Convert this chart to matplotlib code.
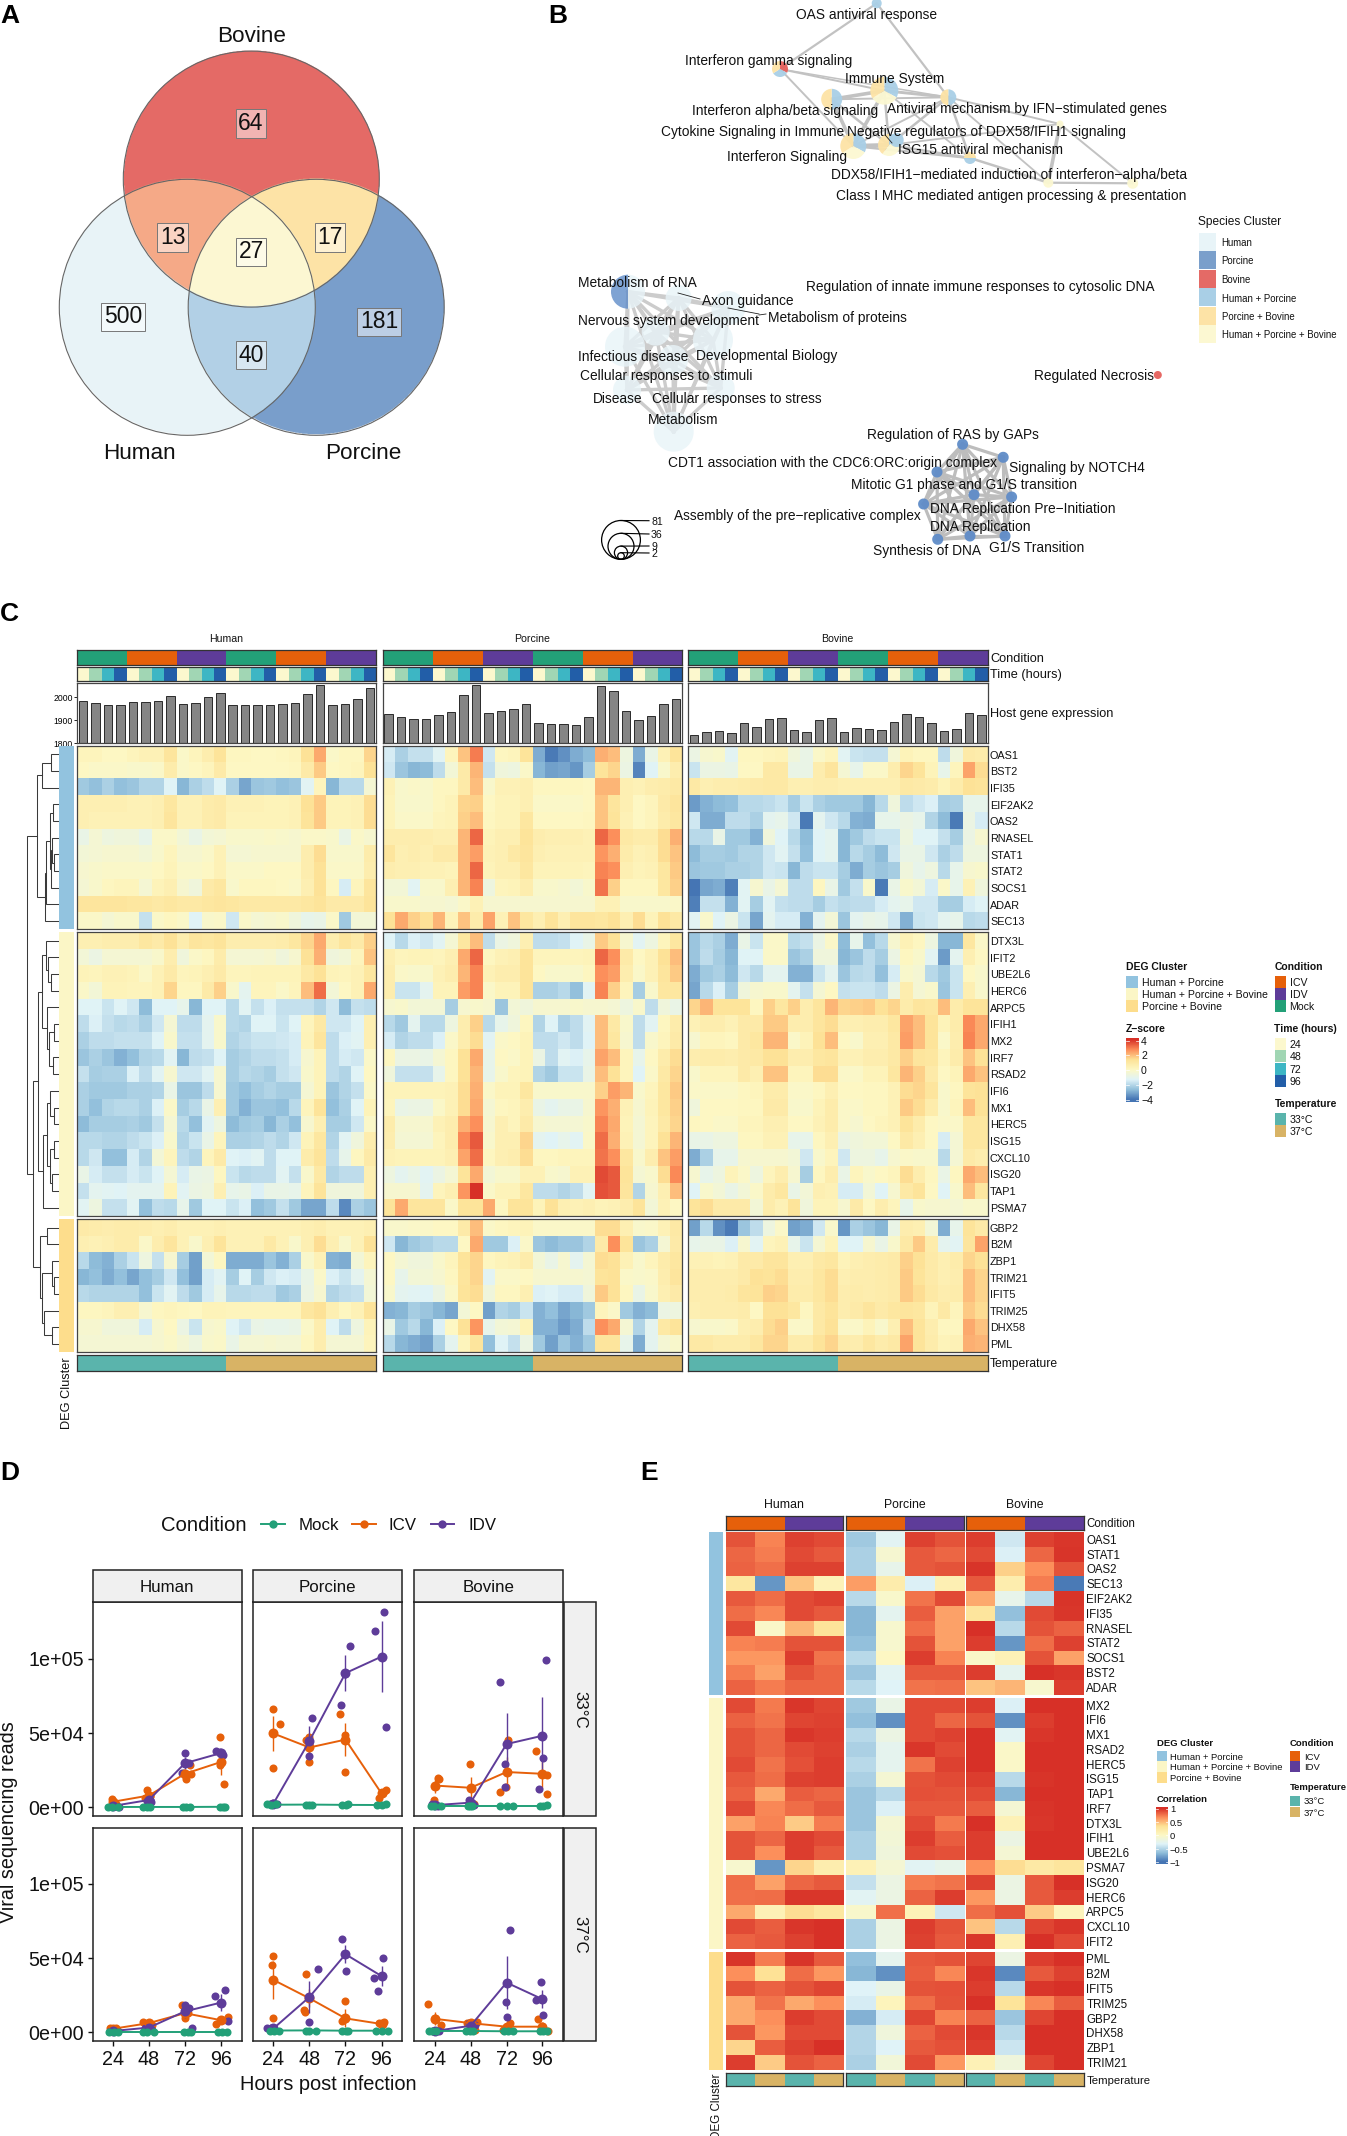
import itertools
import numpy as np
import matplotlib
matplotlib.use('Agg')
import matplotlib.pyplot as plt
from matplotlib.colors import LinearSegmentedColormap, to_rgb
from matplotlib.patches import Circle, Rectangle, Wedge

plt.rcParams['font.family'] = ['Liberation Sans', 'DejaVu Sans']
W, H = 1347, 2136

# ---------- Panel A ----------
venn_labels = ['Bovine', 'Human', 'Porcine']
venn_counts = [64, 13, 27, 17, 500, 40, 181]

# ---------- Panel C ----------
species = ['Human', 'Porcine', 'Bovine']
c_blocks = [11, 17, 8]
genes_c = ['OAS1','BST2','IFI35','EIF2AK2','OAS2','RNASEL','STAT1','STAT2','SOCS1','ADAR','SEC13',
           'DTX3L','IFIT2','UBE2L6','HERC6','ARPC5','IFIH1','MX2','IRF7','RSAD2','IFI6','MX1','HERC5','ISG15','CXCL10','ISG20','TAP1','PSMA7',
           'GBP2','B2M','ZBP1','TRIM21','IFIT5','TRIM25','DHX58','PML']
bars_human = [1983,1974,1965,1965,1978,1978,1984,2007,1970,1975,2000,2020,1967,1965,1965,1965,1971,1974,2013,2052,1965,1970,1991,2039]
bars_porcine = [1928,1913,1907,1906,1922,1936,2010,2052,1930,1942,1949,1972,1887,1884,1883,1878,1913,2048,2025,1942,1899,1917,1971,1991]
bars_bovine = [1836,1849,1852,1843,1887,1872,1907,1909,1857,1848,1901,1909,1849,1867,1861,1858,1894,1926,1913,1887,1852,1864,1930,1922]

human_z = [
[.2,.2,0,0,.2,.4,.4,1.1,-.1,.2,.6,1.2,.1,.1,0,0,.1,.2,1.3,2.2,-.1,.1,.1,1.5],
[0,-.1,-.1,-.1,-.2,-.2,-.1,.7,-.1,0,.2,.8,0,0,0,0,0,.1,.8,1.7,0,.1,.2,1.3],
[-2.4,-2.6,-2.2,-2.6,-2.5,-2.1,-2.1,-1.3,-2.8,-2.2,-1.9,-1.3,-2.2,-3.1,-2.5,-2.4,-2.6,-2.5,-1.2,.2,-2.8,-2,-2,-.4],
[.5,.5,.5,.5,.4,.4,.5,1,.4,.4,.7,.8,.4,.4,.4,.3,.3,.4,1.3,1.7,.3,.3,.4,1.4],
[.5,.4,.4,.4,.4,.4,.5,1.1,.4,.4,.7,.8,.3,.3,.3,.3,.3,.4,1.2,1.7,.3,.3,.4,1.4],
[-.9,-.4,-.7,-.6,-.6,-1,-.1,-.1,-.5,-.9,-.5,-.4,-.2,-.2,-.2,-.1,-.2,-.3,-.1,-.1,-.2,-.9,-.1,-.3],
[-.5,-.4,-.3,-.3,-.3,-.5,-.2,.2,-.3,-.3,-.1,.4,-.4,-.4,-.3,-.3,-.3,-.3,.6,1.4,-.2,-.2,-.2,.7],
[-.3,-.2,-.1,-.1,-.1,-.1,0,.3,-.1,-.1,0,.4,-.1,-.1,-.1,0,0,0,.6,1.3,-.1,-.1,-.1,.6],
[-.4,-.2,.1,.2,.2,-.4,.3,.5,-.3,-.6,.8,1,-.2,.1,.1,.1,0,-.1,.5,1.3,.1,-1.5,.2,1.1],
[1.1,1.1,1.1,1.1,1,1,.9,1,.9,.9,1,1.1,1,.9,.9,.9,.9,.9,1,1.2,.8,.8,.8,1.2],
[-.1,-.1,-.4,-.2,-.2,-1.8,-.1,.1,-.1,-1.3,-.2,-.1,-1.6,-.1,-.4,-.3,-.2,-.6,-1,-.9,-.1,-2.4,-.5,-.5],
[.5,.5,.6,.6,.6,1,.8,1.3,.6,1.1,1,1.2,.6,.6,.6,.6,.7,1,1.5,2.2,.6,1.1,.8,1.6],
[-.5,-.8,-.4,-.4,-.4,-.4,-.2,.6,-.6,-.1,.1,.7,-.4,-.4,-.4,-.3,-.6,-.3,1.3,2.1,-.6,-.5,.2,1.8],
[.3,.2,.4,.4,.3,-.1,.4,.8,.2,.3,.5,.8,.2,.2,.3,.3,.3,.3,.9,1.3,.3,.2,.4,1],
[-.1,-.5,.3,.3,.2,.2,.4,1.5,.1,.1,.8,1.6,-.2,-1.1,.2,.2,-.1,.2,1.9,3.1,-.5,0,.4,2.2],
[-1.3,-1.3,-1.7,-1.3,-1.6,-2.7,-1.3,-1.3,-1,-2.8,-1.3,-1.3,-2,-1.2,-1.8,-1.4,-1.8,-1.8,-1.8,-2.1,-1.6,-2.7,-1.8,-1.9],
[-1.9,-1.4,-1.8,-2,-1.9,-2.2,-1.6,-.4,-1.9,-1.9,-1.1,-.2,-2,-2.1,-1.3,-1.3,-1.7,-1.3,.2,.9,-1.6,-1.6,-1.3,.5],
[-2.2,-1.9,-1.9,-1.8,-1.8,-1.8,-1.3,-.2,-1.8,-1.8,-1.1,-.2,-2.1,-1.9,-1.7,-1.7,-1.6,-1.5,.3,1.1,-1.9,-1.4,-1.2,.5],
[-2.5,-2.2,-2.5,-2.9,-2.6,-2.1,-2,-1.2,-2.8,-1.9,-1.8,-1.3,-2.3,-2.1,-1.9,-1.9,-1.8,-1.5,-.3,.3,-1.9,-1.5,-1.6,-.1],
[-1.8,-2.3,-2.2,-2.2,-1.4,-1.9,-1.2,-.3,-1.6,-1.6,-1.2,-.3,-2.3,-2,-2.1,-2.3,-1.8,-1.6,-.2,.3,-1.9,-2.1,-1.3,0],
[-2.2,-2.4,-2.4,-2.4,-2.2,-2.2,-2.1,-.9,-2.5,-2.5,-1.9,-.3,-2.4,-2.6,-2.3,-2.1,-2.3,-2.3,-.4,.3,-2.5,-2.1,-1.8,-.1],
[-2.2,-2.6,-2.1,-2,-2,-2.2,-1.4,-.1,-2.3,-2,-.9,.5,-2.4,-2.9,-2.5,-2.5,-2.6,-2,.2,1.2,-2.6,-2.2,-1.3,.3],
[-2.7,-2.3,-2.3,-2.3,-2.2,-2.4,-1.8,-.4,-2,-2.6,-1.2,-.7,-2.7,-2.4,-2.3,-2.8,-2.2,-2.6,-.3,.5,-2.3,-2.3,-1.6,-.1],
[-2,-2,-2.1,-2.1,-1.9,-1.7,-1.4,-.2,-2.1,-1.7,-.9,.2,-2.2,-2.2,-2.1,-1.9,-2.1,-1.6,.3,1,-2.1,-1.2,-.6,.6],
[-2,-1.6,-2.6,-2.6,-1.5,-2.1,-.5,.2,-1.9,-2.1,.2,.8,-1.3,-1.4,-1.2,-1.9,-1.3,-1.3,.7,1.2,-1.9,-1,.1,.8],
[-.9,-1.5,-1.8,-1.8,-1.5,-1.7,-1.3,-.4,-1.5,-.9,-.8,.1,-1.7,-2,-1.9,-1.9,-1.2,-1.8,-.2,.9,-2.1,-1.9,-1.9,.5],
[-1.8,-1.1,-1.2,-1.3,-1.1,-1.1,-1.1,.3,-1.2,-.8,-.7,.5,-1,-.9,-1.4,-.9,-.9,-1,.2,1.2,-.6,-.6,-.6,.5],
[-1.2,-.7,-1.8,-1.8,-1.2,-2.6,-1.9,-2,-1,-2.4,-1.3,-1.3,-1.7,-1.4,-2.6,-2.4,-1.8,-2.4,-3.1,-3.1,-1.9,-3.6,-2.2,-2.5],
[.8,.7,.6,.7,.7,.6,.5,.6,.4,.4,.4,.5,.4,.4,.4,.4,.4,.4,.5,.6,.4,.4,.4,.5],
[.5,.4,.5,.7,.7,-.1,.6,1.1,.4,-.2,.5,1.2,.4,.4,.4,.9,.4,-.2,.5,1.4,.5,-.2,.4,1.3],
[-2,-2.7,-2.9,-2.2,-1.7,-.7,-1.8,-.3,-2.3,-3.2,-.5,.1,-3,-3,-3,-2.5,-2.9,-2.2,-.2,.4,-2.9,-3,-.5,.2],
[-2.8,-2.6,-3,-2.6,-3.1,-2.6,-2.3,-1.6,-2.6,-3.2,-1.5,-1.2,-2.3,-1.3,-2.3,-1.6,-1.4,-1.5,-.9,-.1,-1.4,-1.7,-1.1,-.4],
[-2,-2.1,-2.1,-2.1,-2.1,-2.6,-1.7,-1.2,-1.9,-2.4,-1.5,-1,-2,-2,-1.9,-1.9,-2.4,-2.2,-.8,-.3,-2.1,-1.9,-1.8,-.5],
[.1,.1,.2,.5,.5,-.3,.1,.2,.1,0,.3,.3,.2,.2,.2,.2,.2,.2,1,1.3,.5,.1,.4,1.2],
[-.3,-.3,-.6,-.6,-.6,-1.5,-.3,0,-.8,-1.7,-.3,-.2,-1.3,-1.6,-.9,-1,-1,-.9,-.1,.6,-1.3,-1.9,-.7,.3],
[-.4,-.4,-.4,-.4,-.4,-.4,-.3,-.1,-.4,-.7,-.2,-.1,-.9,-.4,-.4,-.3,-.4,-.4,.1,.6,-.4,-.4,-.4,.2],
]
porcine_z = [
[-1.5,-2.2,-1.8,-1.8,-1.2,.2,1.8,2.9,-1.6,.1,.2,1.2,-3,-3.9,-3.5,-3,-2.7,2.1,1.9,-.7,-3,-.9,.4,1.2],
[-1.6,-2.5,-2.8,-2.7,-1.9,-.5,.8,2,-1.8,-.6,-.7,-.1,-2.8,-3.2,-3.1,-3.4,-2.3,1.2,1.5,-.8,-3.7,-1.3,-.2,.6],
[.4,-.2,-.1,-.2,.1,.1,.8,1.9,-.2,.4,.4,.5,.1,.1,.1,.1,0,2,2,.5,.4,.6,.7,.9],
[.3,-.2,-.2,-.2,.1,.3,1.5,1.6,0,.3,.3,.5,-.1,-.1,-.1,-.1,0,1.8,1.1,.5,0,.2,.8,1.1],
[.3,-.1,-.1,-.1,.2,.3,1.6,1.9,.1,.3,.3,1,0,0,0,0,.1,1.8,1.2,.4,0,.2,.7,1],
[.6,.6,.6,.6,.5,.5,2,3.2,.3,.5,.5,1.2,.6,.5,.5,.5,.4,3.2,2.6,.9,.7,.7,1.4,2.1],
[1.1,.5,.6,.5,.8,.8,2,2.4,.4,.5,.9,1.1,.5,.4,.4,.4,.4,2.5,2.1,.7,.4,.5,1.4,1.8],
[.6,.5,.5,.4,.4,.3,2,3.2,.3,.5,.5,1,.3,.3,.3,.3,.2,2.8,2.6,.5,.3,.4,1,1.7],
[-.5,-.5,-1.2,-.2,-.2,.5,2,2.8,-.7,.2,.3,.6,-.2,-.2,-.3,-.5,-.2,3,1.6,.1,.1,.1,1,1.6],
[-.2,-.2,-.2,-.3,-.3,-.4,-.1,.4,-.3,-.3,-.3,-.3,-.3,-.3,-.3,-.3,-.3,.4,.4,-.2,-.2,-.2,-.2,-.1],
[1.3,2.2,1.6,1.3,2,.3,1.8,.7,2.3,.4,1.8,1,.5,1.2,.5,1.1,1.1,1,1.3,.5,1.4,.3,1.3,.9],
[-1.3,-2,-1.4,-1.6,-1.2,-.4,1,1.9,-1.9,-.8,-.6,.5,-1.9,-1.9,-1.8,-1.3,-.9,1.7,1.3,-.3,-1.2,-.7,.2,1],
[.5,.2,.3,.3,.2,.5,2.2,3.2,.1,.4,.5,1.2,.2,.2,.2,.2,.3,3.2,2.6,.8,0,.4,1.3,1.9],
[.6,-.1,-.2,-.2,.4,.6,2,2.8,.4,.6,.6,1.2,0,-.2,-.2,-.2,.1,2.6,2.4,.6,-.1,.4,1.1,1.7],
[.6,-1.7,-1.7,-1.1,.3,.3,2.4,2.8,-.1,.3,.3,1.2,-2.2,-2.2,-2,-2.6,-1.2,2.8,1.6,.2,-2.3,-.2,1,1],
[-.3,-.2,-.5,-.5,-.5,-2.3,-.3,-.2,-.3,-2.5,-.5,-.6,-.3,-.3,-.3,-.2,-.3,-.3,-.4,-.7,-.2,-1.9,-.6,-.9],
[-2,-2.4,-1.1,-2,-2,-.7,.6,1.6,-2,-1,-.6,.1,-2.1,-1.3,-2.2,-1.9,-1.2,1.9,.9,-.2,-1.9,-1.2,.1,.7],
[-1.5,-2.1,-1.9,-1.9,-1.4,-.1,.6,1.4,-1.2,-.1,0,.3,-1.9,-1.9,-1.6,-1.9,-1.3,1.9,1,-.3,-1.9,-.2,.2,.8],
[.1,-.8,-.8,-.9,-.4,.1,1.3,2.2,-1,0,-.1,.3,-.8,-1.9,-1.2,-1.4,-1,2.3,1.9,.2,-1,0,.7,1.4],
[-.6,-1.8,-1.8,-1.8,-1,.1,1.3,2,-1,-.2,.2,.3,-2.1,-2.4,-1.7,-1.7,-.9,1.9,1.3,.2,-1.3,-.1,.9,1.5],
[.3,.3,.3,.3,.3,.4,1.4,2.1,-.1,.3,.3,1,-.2,-.2,-.2,-.2,-.2,1.6,2.4,2,-.2,.2,1,1.7],
[.2,-.9,-.8,-.8,-.1,.4,1.4,2.2,-.4,.1,.2,.6,-.9,-1.1,-.9,-.9,-.3,2.5,2.1,.4,-.3,.3,1,1.6],
[.7,-.3,-.3,-.3,.4,.6,2.1,2.6,-.3,.5,.2,.8,-.3,-.4,-.4,-.4,-.2,2.8,2.2,.3,-.4,.2,.9,1.5],
[.6,-.4,-.4,-.4,.2,.6,2.7,3.4,-.2,.5,.5,1.5,-1.1,-1.3,-1,-1.2,-.1,3.1,2.1,.4,-.4,.2,1.3,2],
[.4,.3,.3,.3,.3,.5,2.3,3.1,.1,.5,.6,1.4,.1,.1,.2,.2,.2,3,2.6,1,-.2,.6,1.8,2.4],
[-.7,-1.1,-.9,-1.2,-.8,-.4,1.2,2.2,-.5,-.2,-.2,.4,.4,-.2,-.3,.4,.4,3.6,3.4,1.2,-.4,-.2,1.4,2.7],
[-.3,-.3,-.3,-1.1,.2,.5,2.5,4,-.1,.3,.3,1,-1.9,-1.9,-2.1,-1.9,-1.2,3.5,3.4,1.1,-2.1,-.3,.5,1.9],
[1.2,2.2,1.1,1.1,1.1,-.1,1.2,1.2,2.2,.1,1.2,1.2,.3,1.3,.5,.4,.5,.3,.4,.6,1.2,-.5,.4,0],
[-.2,-.2,-.1,-.1,0,0,.8,1.9,-.1,.1,.2,.3,-.1,-.1,-.1,-.1,-.1,1.4,1.4,.5,-.2,-.1,.4,.9],
[-1.6,-2.8,-2.4,-2.2,-2,-2,0,2.2,-2.4,-2.4,-1.4,-.1,-2.5,-2.7,-2.5,-2.5,-2.1,.8,2.6,1.2,-2.5,-2.2,-.4,.8],
[0,-.4,-.6,-.6,-.2,.2,1.2,1.5,.1,.3,.4,.7,-.5,-.9,-.3,-1.1,-.4,1.4,1.3,.4,-.2,.2,.7,1],
[0,-1,-.5,-.5,-.3,.1,1.1,1.5,-1.2,-.1,-.1,0,-.3,-.3,-.3,-.3,-.4,1.2,1.3,-.1,-.2,-.1,.6,1.1],
[-.2,-1.1,-1.2,-1.3,-.8,-.1,1.2,1.4,-.6,.1,.1,.5,-1.4,-1.3,-1.5,-1.5,-.6,1.7,1.3,.1,-.9,-.2,.5,.8],
[-2.9,-2.8,-2.3,-2.5,-2.8,-3.1,-.5,0,-3.2,-2.1,-2.3,-1.7,-2.9,-2.6,-3.1,-2.8,-2.4,.2,-.1,-2.4,-2.9,-2.7,-.8,-.7],
[-.9,-2.4,-2,-2.8,-1.4,0,1.3,2.5,-1,-.5,-.4,.3,-2.9,-2.9,-3.3,-3,-1.9,2.6,2.2,-.4,-2.1,-1.1,.9,1.2],
[-2,-2.8,-3,-3.2,-2.2,-1.1,.2,1.1,-2.6,-1.3,-1.8,-.8,-2.4,-3.2,-2.5,-2.9,-2.4,1.1,1.1,-1,-3,-1.1,-.4,-.2],
]
bovine_z = [
[-.8,-.3,-.2,-1.2,.1,.1,.2,.3,-.6,-.9,-.1,.2,-1.2,-1.7,-1.8,-1.8,-.4,.3,.1,.1,-1.9,-.6,.8,.7],
[-1.7,-.8,-.8,-.9,0,0,.9,.9,-.9,-.9,.6,1.1,-.4,-1,-.1,-.1,.6,1.5,1.2,.3,-1,.2,2.3,1.4],
[.9,.5,.6,.6,.7,.8,.9,.9,.5,.5,.6,.6,.5,.5,.5,.5,.5,.9,.8,.7,.3,.7,1.3,1.2],
[-3.3,-2.9,-2.7,-2.6,-2,-2,-1.9,-1.7,-2.3,-1.7,-2.2,-2.4,-2.4,-2.4,-2.8,-2,-.6,-1.9,-1.6,-1.4,-2.3,-2.2,-1,-1],
[-1.6,-3,-3,-1.9,-1.9,-2.2,-1.1,-1,-1.6,-3.9,-1.1,-1.6,-2,-2.9,-3,-1,-1,-.8,-1,-2.1,-2.7,-3.9,-.8,-1.5],
[-2,-2,-.9,-2.4,-2.4,-2.9,-.6,-1.3,-2,-2.7,-1.3,-1.1,-2.8,-2.4,-1.9,-1.7,-1.7,-.7,-1.3,-1.3,-1.8,-2.3,-.8,-.3],
[-2.7,-2.3,-2.3,-2.4,-2.1,-2.1,-1.6,-1.2,-1.8,-2.6,-1.3,-1.1,-2.8,-2,-2.3,-2.7,-1.6,-.9,-.9,-1.6,-2.2,-1.9,-.7,-.7],
[-2.5,-2.4,-2.4,-2.2,-2.2,-2.1,-1.6,-1.7,-2.8,-1.9,-1.7,-1.7,-2.3,-3,-2.3,-2.5,-2.3,-.6,-1,-.7,-2,-1,-.3,-.2],
[-4,-3.1,-3,-3.8,-1.2,-.3,-.9,-.4,-1.9,-1.9,.1,-.9,-2.4,-1.8,-.2,-3.9,-.9,-.2,-.5,-1.5,-.1,-1,.4,-.6],
[-3.8,-1.8,-1.8,-2.9,-1.2,-2.3,-1.2,-1.8,-1.9,-1.9,-2.3,-1.8,-2,-1.9,-1.9,-1.5,-1.1,-1,-1.6,-1.6,-2.3,-2.3,-1.5,-1.3],
[-1.2,-.2,-1.3,-.8,-1.7,-3.1,-1.1,-1.5,-1.5,-2.9,-1.1,-.5,-2.5,-1.1,-.9,-1,-1.6,-2.9,-1.7,-1.6,-1.1,-1,-2,-1.9],
[-2.5,-2,-2.2,-3,-.9,-1.7,-.1,-.1,-2,-1.8,-.8,-.1,-2.7,-1,-2.6,-2,-.3,.4,.1,-.7,-2.8,-2.8,1,-.1],
[-2.5,-1.9,-2.3,-2.8,-1.3,-1.3,-.1,-.1,-2.5,-2.2,-.6,-.6,-2.8,-2.5,-1.9,-2.3,-.8,.1,-.2,-1.2,-3.3,-1.1,.5,0],
[-3,-2.4,-2.2,-2.7,-1.6,-2,-1.1,-1.1,-2.9,-2.9,-1.7,-1.1,-2.5,-2,-1.9,-2.6,-1.5,-.2,-.4,-2,-2.4,-1.7,0,-.2],
[-3.1,-2,-1.4,-2.3,-.6,-.3,-.2,-.2,-1.1,-1.8,-.4,0,-1.8,-1.7,-1.7,-1.9,-.8,.6,-.4,-.2,-2.5,-1.7,.5,-.2],
[1.5,2,1.2,1.2,1.2,.1,1.6,1,1.6,.6,1.1,2,1.5,1.6,1.7,1.3,1.5,.7,1.1,1,1.9,.7,1.2,1.2],
[.4,.6,.6,.4,.8,.8,1.7,1.7,.6,.6,1.1,1.4,.5,.5,.6,.6,1,2.3,1.9,1.2,.3,.7,2.7,2.2],
[-.3,.2,.2,.1,.8,1,2,2,-.1,.3,1.3,1.9,0,-.2,.5,.5,.9,2.4,1.9,1.2,-.1,.6,2.8,2.2],
[.6,.7,.7,.6,.8,.9,1.3,1.3,.6,.6,1,1.1,.4,.4,.6,.6,.9,1.6,1.1,1,.2,.7,1.8,1.3],
[-.2,.2,.2,.2,.8,.5,1.8,1.8,.2,.2,1.4,1.4,-.1,-.1,.3,.3,1,2,1.6,.8,0,.3,2.2,1.8],
[-.1,-.1,-.1,-.1,.1,.2,.7,.7,-.1,-.1,.1,.5,0,0,.1,.1,.4,1.4,1.5,1.1,-.2,.1,1.2,1.3],
[-.6,0,0,0,.1,.1,.8,.8,-.2,-.2,.3,.7,-.1,-.1,.1,.1,.4,1.7,1.4,.7,-.2,.2,1.9,1.3],
[.1,0,-.1,-.1,.2,.2,.5,.5,0,0,.4,.7,-.1,-.3,0,.2,.4,1.2,.7,0,-.1,-.1,1,1],
[-.9,-.9,-.7,-.7,.1,.1,.4,.4,-1,-1,.1,.5,-.8,-.6,-.5,-.5,0,.9,.5,0,-1.5,-.4,1,1],
[-3,-2.2,-1,-1,-.3,-.3,-.3,-.3,-.5,-1.6,-.2,.2,-1.6,-.7,-.7,-1,-.3,-.1,-.2,-.2,-2,-.4,.8,.6],
[-.3,-1,-.7,.3,-.1,-.7,.2,.6,-.3,-2.3,.1,.6,-.9,.2,-.2,0,.2,1.4,.6,.1,-.9,.1,2.2,1.9],
[-1.3,-.2,-.5,-.9,-.5,-.1,.7,1,-.9,-.5,.5,.4,-1.5,-1.5,-.5,-1.3,-.3,.9,1.2,0,-1.3,-.2,1.9,1],
[1.2,1.4,.8,.8,.8,-.5,.7,.4,1.2,-.6,.3,.3,-.3,.8,0,.6,.2,-1,-.2,-.3,-.3,-.4,-.2,-.2],
[-3.2,-2,-3.5,-3.9,-2.5,-1.9,-.7,-.1,-3.2,-3,-1.6,-.2,-3.4,-2.2,-2.5,-2.8,-.9,.6,.5,-.5,-3,-1,1.2,.8],
[-1,-.9,-.9,-1.4,-.3,-1.2,.2,.4,-1,-1.7,-.4,.3,-1.3,-1.3,-.3,-.9,-.2,.9,1.7,.7,-1.1,-1.2,1.1,2.3],
[.4,.4,.3,.4,.8,.8,1.1,1.1,.5,.5,.9,1,.3,.5,.6,.7,.8,1.6,1.3,.8,.5,.7,1.5,1.3],
[.6,.6,.6,.6,.8,1.3,1.2,1.4,.6,.6,1,1.4,.5,.6,.6,.7,.8,1.7,1.2,.8,.5,.6,1.9,1.5],
[.6,.6,.6,.7,1.1,1.2,1.6,1.5,.7,.7,1,1.4,.6,.7,.6,.7,.8,1.7,1.4,.9,.6,.7,1.9,1.5],
[.5,.6,.6,.6,.7,0,1.3,1.3,1,.1,.9,1.2,.6,.8,1.1,.8,1,1.1,1,.3,.9,.2,1.7,1.4],
[-.3,-.2,-.2,-.1,.5,.6,1.4,1.6,-.1,-.1,.9,1.3,-.1,-.1,.3,-.2,.5,1.9,1.2,.6,.1,.1,2.2,1.8],
[.9,.9,.7,.7,.7,1,1.5,1.5,.7,.7,1.2,1.5,.7,.6,1,.7,.9,2.3,1.2,.7,.3,.4,2.1,2],
]
# dendrogram merges: (height, left, right); integers are row numbers
tree_c = (30.8,
    (20.4, (15.6, (6.5, 0, 1), 2),
           (13, (11.7, (7.8, (4.8, 3, 4), (7, (5.6, 5, (3.5, 6, 7)), 8)), 9), 10)),
    (25, (20, (16, (12, 11, (10, 12, (6.5, 13, 14))),
                   (10.8, 15, (9.1, (3.5, 16, 17), (4.8, 18, 19)))),
              (14.3, (11, (7.8, 20, (3.5, 21, 22)), (8, (3.5, 23, 24), (5.6, 25, 26))), 27)),
         (17.8, (10.8, 28, 29), (16, (5.5, 30, (3.5, 31, 32)), (14, 33, (5.6, 34, 35))))))

# ---------- Panel D (x in hours incl. jitter, y in thousands of reads) ----------
hours = [24, 48, 72, 96]
h33_icv_mean, h33_icv_err = [3.8, 8, 22.6, 30.5], [1, 1.5, 2.5, 9]
h33_idv_mean, h33_idv_err = [1, 5, 29.7, 36.5], [.4, .7, 4, 1]
h33_mock_mean = [.3, .3, .3, .4]
h33_icv_pts = [(23.5,5.9),(24.8,3.5),(26.2,2.6),(47,11.8),(48.8,7.9),(45.3,6.5),(75.3,28.5),(73,19.1),(71.2,23.2),(76,22.6),(95.2,47.3),(98.2,15.9),(95.7,28.5)]
h33_idv_pts = [(23.5,1.5),(26.2,1.2),(28,.6),(48.5,5),(46.7,4.1),(49.4,3.5),(72.3,36.8),(69.8,23.2),(74.7,29.7),(92.7,38.2),(95.7,37.3),(97.4,35.3)]
h33_mock_pts = [(20.7,.5),(23.5,.4),(27.5,.4),(44,.4),(46.7,.4),(48.5,.4),(70.6,.4),(73,.4),(75.7,.4),(95.2,.4),(97.4,.4),(99,.5)]
p33_icv_mean, p33_icv_err = [49.7, 40.3, 45.6, 9.4], [12, 4, 11, 1.5]
p33_idv_mean, p33_idv_err = [2.6, 44.7, 90.3, 101.4], [.3, 10, 12, 24]
p33_mock_mean = [1.8, 1.9, 1.7, 1.6]
p33_icv_pts = [(24,66),(28.6,55.9),(24,26.2),(45.5,45.3),(48,47.6),(48,30.6),(68.2,62.6),(71.5,49),(71.7,24.1),(98.7,11.8),(96.8,9.4),(94.6,6.5)]
p33_idv_pts = [(24,2.9),(21.5,2.6),(26.7,2.6),(49.6,60.3),(48,43.2),(48,34.4),(75,108.8),(68.8,68.8),(71.5,90),(97.4,131.7),(91.7,118.8),(98.7,53.8)]
p33_mock_pts = [(20,2),(22.6,1.8),(25.4,2),(45.5,1.9),(47.7,1.9),(49.6,1.9),(69.5,1.5),(72.3,1.7),(73.6,2.2),(92.8,1.3),(96,1.6),(99,2)]
b33_icv_mean, b33_icv_err = [14.7, 13.2, 23.8, 22.6], [5, 7, 10, 10]
b33_idv_mean, b33_idv_err = [1.5, 3.2, 42.6, 48.2], [.4, 1, 21, 26]
b33_mock_mean = [1.2, 1.2, 1.2, 1.2]
b33_icv_pts = [(26,19.7),(26.7,19.1),(23.5,5),(47.5,29.1),(50,2.6),(48,12.9),(73,45.3),(67.4,10.6),(71.7,13.8),(91.6,37.9),(99,21.8),(99.3,9.1)]
b33_idv_pts = [(22.4,2),(24,1.5),(26,1.2),(46.6,5),(48.5,2.6),(50,1.5),(67.6,84),(71.2,29.4),(71.2,13.8),(98.5,98.8),(93.8,12.3),(96.3,33.5)]
b33_mock_pts = [(21.3,1.2),(23.5,1.2),(28.5,1.2),(46,1.2),(47.5,1.2),(49.2,1.2),(67.6,1.2),(72.5,1.2),(76.6,1.2),(94.6,1.2),(96.3,1.2),(99,1.5)]
h37_icv_mean, h37_icv_err = [2.4, 6.2, 12.9, 8.2], [.5, 1, 2.5, 2]
h37_idv_mean, h37_idv_err = [.9, 3.2, 14.1, 20], [.2, .6, 4.5, 5.5]
h37_mock_mean = [.4, .4, .4, .4]
h37_icv_pts = [(22,2.6),(25.7,3.2),(24,1.8),(44,7),(48,6.2),(50,4.7),(69.8,18.5),(72,9.7),(74,12.9),(93,5.3),(96.5,8.2),(100.7,10)]
h37_idv_pts = [(22,.6),(24.8,.6),(27.5,.6),(45.3,2.6),(48,3.2),(50,1.8),(72,18.5),(74.7,16.5),(76.7,3.2),(92.2,24.4),(98.5,28.2),(100.7,7.9)]
h37_mock_pts = [(21.5,.3),(24.8,.3),(27.5,.3),(44,.3),(46.7,.3),(51.5,.3),(71.5,.3),(74.2,.3),(76.4,.3),(93.8,.3),(97,.3),(100.4,.3)]
p37_icv_mean, p37_icv_err = [35.3, 22.9, 9.4, 5.6], [13, 6, 6, 1]
p37_idv_mean, p37_idv_err = [2.6, 23.8, 52.6, 37.9], [.3, 11, 6, 7]
p37_mock_mean = [1.2, 1.3, 1.1, 1.1]
p37_icv_pts = [(23.5,51.5),(23,45.3),(24,9.7),(46,39.4),(44.3,15),(45,13.5),(71.5,20.9),(72,9.1),(70,7.6),(94,6.2),(97.4,7),(96,5.6)]
p37_idv_pts = [(20,3.2),(22.6,3.2),(24,2.4),(53.5,42.9),(47.4,7),(48,23.8),(69.5,62.6),(72.5,41.2),(71.7,52.6),(97,50.3),(91,36.5),(93.8,27.9)]
p37_mock_pts = [(21.5,1.2),(24.5,1.2),(27.5,1.2),(45.5,1.2),(47.7,1.2),(52.5,1.2),(69.5,1),(72.3,1),(73.6,1),(92,1),(96,1),(100.4,1)]
b37_icv_mean, b37_icv_err = [9.1, 6.2, 3.8, 3.8], [4.5, 1.5, 1.2, 2.5]
b37_idv_mean, b37_idv_err = [.9, 4.4, 33.5, 22.3], [.2, 1.5, 18, 6]
b37_mock_mean = [.9, .9, .7, .7]
b37_icv_pts = [(19.4,19.1),(24,9.7),(28,4.7),(45.5,6.2),(52,7),(51,1.8),(74.5,6.2),(71.7,3.8),(69.5,1.8),(92.7,9.1),(96,4.1),(100,1.2)]
b37_idv_pts = [(26.7,.9),(24.8,.6),(22.6,.6),(46.6,6.2),(48.5,3.8),(51.2,4.7),(74.5,69),(71.7,20.3),(72.5,10.6),(95,33.8),(92,22),(96.5,11.5)]
b37_mock_pts = [(20,.9),(22,.9),(24.8,.9),(45,.9),(47.7,.9),(49.6,.9),(70.6,.7),(73.3,.7),(76,.7),(94.6,.7),(96.3,.7),(99,.7)]

# ---------- Panel E ----------
e_blocks = [11, 17, 8]
genes_e = ['OAS1','STAT1','OAS2','SEC13','EIF2AK2','IFI35','RNASEL','STAT2','SOCS1','BST2','ADAR',
           'MX2','IFI6','MX1','RSAD2','HERC5','ISG15','TAP1','IRF7','DTX3L','IFIH1','UBE2L6','PSMA7','ISG20','HERC6','ARPC5','CXCL10','IFIT2',
           'PML','B2M','IFIT5','TRIM25','GBP2','DHX58','ZBP1','TRIM21']
human_r = [[.87,.7,.93,.9],[.8,.72,.9,.85],[.82,.77,.93,.93],[.25,-.85,.45,.08],[.85,.78,.9,.93],[.78,.68,.9,.85],[.9,-.03,.5,.3],[.7,.72,.87,.87],[.62,.62,.95,.75],[.72,.58,.87,.8],[.82,.72,.8,.8],
 [.9,.73,.97,.92],[.82,.75,.92,.93],[.87,.8,.97,.95],[.87,.8,.9,.93],[.9,.75,.88,.95],[.85,.78,.93,.95],[.82,.55,.83,.8],[.9,.68,.78,.85],[.58,.7,.42,.72],[.87,.8,.95,.9],[.87,.65,.95,.85],[-.07,-.85,.38,.15],[.78,.58,.8,.85],[.77,.78,.97,.97],[.55,.1,.35,.25],[.9,.83,.97,1],[.82,.85,.93,1],
 [.98,.72,.98,.85],[.65,.33,.78,.62],[.87,.82,.87,.92],[.55,.75,.55,.65],[.55,.65,.95,.9],[.87,.62,.9,.9],[.38,.83,.93,1],[.95,.42,.87,.82]]
porcine_r = [[-.6,-.3,.93,.87],[-.55,-.08,.85,.8],[-.55,-.25,.85,.87],[.6,.17,-.35,.12],[-.5,-.05,.75,.9],[-.7,-.28,.83,.58],[-.7,-.07,.77,.58],[-.65,-.07,.87,.58],[-.5,0,.95,.7],[-.62,-.3,.85,.85],[-.5,-.33,.75,.77],
 [-.6,-.22,.9,.9],[-.65,-.87,.9,.8],[-.5,-.2,.9,.93],[-.55,-.27,.97,.9],[-.5,-.27,.75,.93],[-.55,-.1,.87,.9],[-.62,-.5,.88,.87],[-.62,-.35,.85,.85],[-.62,-.1,.9,.73],[-.55,-.12,.95,.83],[-.55,-.15,.9,.88],[.1,-.1,-.3,-.25],[-.45,-.2,.72,.75],[-.3,-.2,.82,.95],[-.05,.77,.08,-.4],[-.55,-.2,.95,.87],[-.55,-.2,.93,.85],
 [-.65,-.27,.85,.87],[-.7,-.87,.83,.68],[-.33,-.22,.87,.88],[-.37,.05,.78,.87],[-.72,-.37,.92,.7],[-.52,-.15,.82,.9],[-.52,-.33,.85,.88],[-.55,-.13,.9,.62]]
bovine_r = [[.95,-.4,.93,.97],[.9,-.35,.8,.98],[.98,.4,.65,.87],[.85,.15,.72,-.97],[.55,-.25,-.5,.98],[.28,-.65,.9,.97],[1,-.5,.87,.82],[.95,-.85,.78,.93],[-.03,.1,.87,.58],[.95,-.28,1,.97],[.45,.5,-.07,.95],
 [.95,-.35,1,1],[.87,-.87,.95,1],[1,-.3,.97,1],[1,-.03,1,1],[1,-.03,1,1],[.95,-.5,.98,1],[.9,-.7,1,1],[.83,-.1,.98,1],[1,.1,.97,1],[.95,-.2,1,1],[.95,-.1,1,1],[.65,.35,.22,.28],[.93,-.2,.85,1],[.62,-.2,.85,.95],[.78,.88,.42,.05],[.45,-.5,.92,.97],[.97,.12,1,.9],
 [.92,-.2,.95,1],[.97,-.9,.85,.93],[.95,-.5,.97,1],[1,.3,.68,.83],[.82,-.62,.92,1],[.97,-.5,1,1],[.95,-.42,1,1],[.1,-.15,.92,1]]

# ---------- Colours ----------
BLUE_C, YEL_C, ORA_C = '#92C3DF', '#FBF6C6', '#FDDD8C'
C_MOCK, C_ICV, C_IDV = '#23A078', '#E6600A', '#5E3C99'
T_COL = ['#FCF8CE', '#A1D6B4', '#3DB6C4', '#225EA8']
TEMP = ['#5AB4AC', '#D8B365']
SP = {'H': '#E8F4F8', 'P': '#5F8CC8', 'B': '#E5605C', 'HP': '#A9CFE6', 'PB': '#FDE3A6', 'HPB': '#FCF8D2'}
cmap = LinearSegmentedColormap.from_list('z', ['#4575b4', '#91bfdb', '#e0f3f8', '#fdf8c4', '#fee296', '#fc8d59', '#d73027'])

fig = plt.figure(figsize=(W / 100, H / 100), dpi=100, facecolor='white')

def axpx(x0, y0, x1, y1, **kw):
    return fig.add_axes([x0 / W, 1 - y1 / H, (x1 - x0) / W, (y1 - y0) / H], **kw)

ov = fig.add_axes([0, 0, 1, 1], zorder=10)
ov.set_xlim(0, W); ov.set_ylim(H, 0); ov.axis('off'); ov.set_autoscale_on(False)
ov.patch.set_alpha(0)

def T(x, y, s, size, ha='center', va='center', **kw):
    ov.text(x, y + 1.2, s, fontsize=size, ha=ha, va=va, color=kw.pop('color', '#111111'), **kw)

def swatch(x0, y0, x1, y1, c, z=3):
    ov.add_patch(Rectangle((x0, y0), x1 - x0, y1 - y0, fc=c, ec='none', zorder=z))

for s, (x, y) in zip('ABCDE', [(10, 15), (558, 15), (9, 613), (10, 1472), (649, 1472)]):
    T(x, y, s, 19, fontweight='bold', color='black')

# ---------- A: Venn ----------
circ = {'B': (251.3, 179.1), 'H': (187.3, 307.3), 'P': (316.2, 307.3)}
R_V = 128.0
xs = np.arange(50, 455, 0.5); ys = np.arange(45, 445, 0.5)
XX, YY = np.meshgrid(xs, ys)
inB = (XX - circ['B'][0])**2 + (YY - circ['B'][1])**2 <= R_V**2
inH = (XX - circ['H'][0])**2 + (YY - circ['H'][1])**2 <= R_V**2
inP = (XX - circ['P'][0])**2 + (YY - circ['P'][1])**2 <= R_V**2
img = np.ones(XX.shape + (4,)); img[..., 3] = 0
for mask, col in [(inH & ~inB & ~inP, '#E8F4F8'), (inP & ~inB & ~inH, '#7A9FCB'), (inB & ~inH & ~inP, '#E46A66'),
                  (inH & inP & ~inB, '#B2D1E6'), (inH & inB & ~inP, '#F5A987'), (inP & inB & ~inH, '#FDE3A6'), (inH & inP & inB, '#FCF8D2')]:
    img[mask] = to_rgb(col) + (1,)
ov.imshow(img, extent=(xs[0], xs[-1], ys[-1], ys[0]), aspect='auto', interpolation='bilinear', zorder=1)
for k in circ:
    ov.add_patch(Circle(circ[k], R_V, fc='none', ec='#666666', lw=0.8, zorder=2))
for n, (x, y) in zip(venn_counts, [(251, 122.5), (172.7, 236.5), (251, 250.7), (330, 236.5), (123, 315.7), (251, 354), (379, 320.7)]):
    T(x, y, str(n), 16.5, zorder=4, bbox=dict(boxstyle='square,pad=0.12', fc=(1, 1, 1, 0.5), ec='#777777', lw=0.7))
for s, (x, y) in zip(venn_labels, [(251.7, 35), (139, 452), (363.4, 452)]):
    T(x, y, s, 16.2)

# ---------- B: network ----------
nodes1 = [('OAS', 876.7, 3.3, 5, [('HP', 1)], -90), ('IFNG', 780, 69, 8, [('B', .33), ('HP', .33), ('PB', .34)], -90),
          ('IFNA', 831.7, 99.3, 10.5, [('HP', .5), ('PB', .5)], -90), ('IMM', 884.3, 90.7, 14, [('HP', .33), ('HPB', .33), ('PB', .34)], -90),
          ('ANTI', 948.3, 97.3, 8, [('HP', .5), ('PB', .5)], -90), ('CYT', 853.3, 146, 13, [('HP', .33), ('HPB', .33), ('PB', .34)], -90),
          ('ISG', 889, 145, 11, [('HP', .15), ('HPB', .45), ('PB', .4)], -90), ('NEGB', 896.7, 140, 7, [('HP', 1)], -90),
          ('DDX', 970, 158, 6, [('HP', .5), ('PB', .5)], 0), ('NEG', 1060, 124, 3.5, [('HPB', 1)], -90),
          ('DD2', 1048.3, 182.7, 5, [('HPB', 1)], -90), ('MHC', 1132.7, 183.3, 5.5, [('HPB', 1)], -90)]
edges1 = [('OAS','IFNG',1.6),('OAS','ANTI',1.6),('IFNG','IMM',1.4),('IFNG','CYT',1.4),('IFNG','ANTI',1.1),('IFNA','IMM',2.6),('IFNA','ANTI',1.4),('IFNA','CYT',2.6),('IFNA','ISG',1.8),
          ('IMM','ANTI',2.1),('IMM','CYT',2.6),('IMM','ISG',1.8),('ANTI','CYT',1.4),('ANTI','ISG',1.8),('ANTI','NEG',1.4),('ANTI','DDX',1.8),('ANTI','DD2',1.3),('CYT','ISG',3),('CYT','DDX',1.8),
          ('ISG','DDX',1.8),('NEG','DD2',2.6),('NEG','MHC',1.4),('DDX','DD2',1.8),('DD2','MHC',1.6),('NEG','ISG',1.3),('IMM','DDX',1.3)]
lk = {n[0]: n for n in nodes1}
for a, b, lw in edges1:
    ov.plot([lk[a][1], lk[b][1]], [lk[a][2], lk[b][2]], color='#C2C2C2', lw=lw, zorder=2, solid_capstyle='round')

def pie(x, y, r, parts, start=-90, alpha=0.95):
    th = start
    for key, f in parts:
        ov.add_patch(Wedge((x, y), r, th, th + 360 * f, fc=SP[key], ec='none', alpha=alpha, zorder=3))
        th += 360 * f

for n in nodes1:
    pie(n[1], n[2], n[3], n[4], n[5])

nodes2 = [(628, 291.7, 17, [('H', .5), ('P', .5)]), (678.6, 298, 13, [('H', 1)]), (728.4, 308, 17, [('H', 1)]), (655.7, 331.7, 14, [('H', 1)]),
          (625, 346.7, 20, [('H', 1)]), (713, 340, 20, [('H', 1)]), (673, 360, 15, [('H', 1)]), (627, 390, 14, [('H', 1)]), (720.7, 388, 14, [('H', 1)]), (673.7, 431.7, 20, [('H', 1)])]
for a, b in itertools.combinations(nodes2, 2):
    ov.plot([a[0], b[0]], [a[1], b[1]], color='#CCCCCC', lw=2.4, zorder=2)
for n in nodes2:
    pie(n[0], n[1], n[2], n[3], alpha=0.8)
nodes3 = [(962.6, 444.3), (1003.2, 457.3), (937, 472), (974, 494.7), (1011.6, 497), (923.6, 504), (937.7, 539.3), (970, 536), (1005, 536)]
for a, b in itertools.combinations(nodes3, 2):
    ov.plot([a[0], b[0]], [a[1], b[1]], color='#BDBDBD', lw=2.3, zorder=2)
for x, y in nodes3:
    pie(x, y, 5.5, [('P', 1)])
pie(1157.8, 375, 4, [('B', 1)])

for (x0, y0, x1, y1) in [(678, 293, 700, 299), (728, 308, 759, 314), (759, 315, 766, 314), (886, 136, 892, 143)]:
    ov.plot([x0, x1], [y0, y1], color='#222222', lw=0.6, zorder=4)

net_labels = [('OAS antiviral response', 866.7, 14.3), ('Interferon gamma signaling', 769, 59.3), ('Immune System', 894.7, 77.7),
    ('Interferon alpha/beta signaling', 785, 110), ('Antiviral mechanism by IFN−stimulated genes', 1026.6, 108.3),
    ('Cytokine Signaling in Immune', 753, 130.5), ('Negative regulators of DDX58/IFIH1 signaling', 986.7, 130.5),
    ('Interferon Signaling', 787, 155.7), ('ISG15 antiviral mechanism', 980, 148.7),
    ('DDX58/IFIH1−mediated induction of interferon−alpha/beta', 1008.6, 174), ('Class I MHC mediated antigen processing & presentation', 1011.6, 194.4),
    ('Metabolism of RNA', 637.7, 281.7), ('Axon guidance', 747.5, 299.3), ('Metabolism of proteins', 837.5, 316.7), ('Nervous system development', 669, 320),
    ('Infectious disease', 632.7, 356), ('Developmental Biology', 767, 355), ('Cellular responses to stimuli', 666, 375), ('Disease', 617.4, 397.7),
    ('Cellular responses to stress', 736.4, 397.7), ('Metabolism', 683.6, 419.3), ('Regulation of innate immune responses to cytosolic DNA', 980, 286),
    ('Regulated Necrosis', 1093.5, 375), ('Regulation of RAS by GAPs', 952.6, 434.3), ('CDT1 association with the CDC6:ORC:origin complex', 832.5, 462),
    ('Signaling by NOTCH4', 1076.6, 466.7), ('Mitotic G1 phase and G1/S transition', 964, 484.3), ('Assembly of the pre−replicative complex', 797.3, 514.7),
    ('DNA Replication Pre−Initiation', 1022.3, 508.3), ('DNA Replication', 980, 526), ('Synthesis of DNA', 927.4, 550), ('G1/S Transition', 1036.5, 546.7)]
for s, x, y in net_labels:
    T(x, y, s, 9.95, zorder=5)

for r, lab, ly in [(19.4, '81', 520.7), (13, '36', 534), (6.6, '9', 546), (3.3, '2', 553)]:
    ov.add_patch(Circle((621, 559.3 - r), r, fc='none', ec='black', lw=0.9, zorder=3))
    ov.plot([621, 649], [559.3 - 2 * r, ly], color='black', lw=0.8, zorder=3)
    T(651, ly, lab, 7.6, ha='left')

T(1198, 221, 'Species Cluster', 8.6, ha='left')
for y, key, lab in zip([241.9, 260.2, 279, 297.4, 315.7, 334], ['H', 'P', 'B', 'HP', 'PB', 'HPB'],
                       ['Human', 'Porcine', 'Bovine', 'Human + Porcine', 'Porcine + Bovine', 'Human + Porcine + Bovine']):
    col = {'P': '#7A9FCB', 'B': '#E46A66'}.get(key, SP[key])
    swatch(1198.5, y - 9, 1215.6, y + 9, col)
    T(1221.6, y, lab, 6.9, ha='left')

# ---------- C: heatmap ----------
cx = [(77, 376), (382.5, 682), (687.5, 987.5)]
cy_blocks = [(746, 929.3), (932.3, 1216), (1219.3, 1352)]
cond_c = [C_MOCK] * 4 + [C_ICV] * 4 + [C_IDV] * 4
cond_c = cond_c * 2
time_c = T_COL * 6
temp_c = [TEMP[0]] * 12 + [TEMP[1]] * 12

def annbar(x0, y0, x1, y1, cols):
    a = axpx(x0, y0, x1, y1)
    a.imshow(np.array([[to_rgb(c) for c in cols]]), aspect='auto', interpolation='nearest')
    a.set_xticks([]); a.set_yticks([])
    for sp in a.spines.values():
        sp.set_linewidth(0.9); sp.set_color('#333333')

def heat_block(x0, y0, x1, y1, arr, vmin, vmax):
    a = axpx(x0, y0, x1, y1)
    a.imshow(arr, aspect='auto', cmap=cmap, vmin=vmin, vmax=vmax, interpolation='nearest')
    a.set_xticks([]); a.set_yticks([])
    for sp in a.spines.values():
        sp.set_linewidth(0.9); sp.set_color('#444444')

matrices_c = [np.array(human_z), np.array(porcine_z), np.array(bovine_z)]
bars_c = [bars_human, bars_porcine, bars_bovine]
for i, ((x0, x1), sp_name) in enumerate(zip(cx, species)):
    T((x0 + x1) / 2, 638, sp_name, 7.6)
    annbar(x0, 650, x1, 665.3, cond_c)
    annbar(x0, 666.7, x1, 681.3, time_c)
    annbar(x0, 1355.3, x1, 1370.7, temp_c)
    b = axpx(x0, 682.7, x1, 743.3)
    b.bar(np.arange(24), bars_c[i], width=0.68, color='#858585', edgecolor='#2a2a2a', linewidth=0.7)
    b.set_xlim(-0.5, 23.5); b.set_ylim(1800, 2063); b.set_xticks([])
    for sp in b.spines.values():
        sp.set_linewidth(0.9); sp.set_color('#444444')
    if i == 0:
        b.set_yticks([1800, 1900, 2000]); b.tick_params(axis='y', labelsize=6.2, length=2, width=0.6, pad=1)
    else:
        b.set_yticks([])
    s0 = 0
    for n, (y0, y1) in zip(c_blocks, cy_blocks):
        heat_block(x0, y0, x1, y1, matrices_c[i][s0:s0 + n], -4, 4)
        s0 += n

leaf_y = {}
s0 = 0
for n, (y0, y1), col in zip(c_blocks, cy_blocks, [BLUE_C, YEL_C, ORA_C]):
    rh = (y1 - y0) / n
    swatch(58.5, y0, 73.7, y1, col)
    for k in range(n):
        yy = y0 + (k + .5) * rh
        leaf_y[s0 + k] = yy
        T(990, yy, genes_c[s0 + k], 7.8, ha='left')
    s0 += n

def dendro(node):
    if isinstance(node, int):
        return leaf_y[node], 0.0
    h, l, r = node
    yl, hl = dendro(l); yr, hr = dendro(r)
    xb = 57.7 - h
    ov.plot([57.7 - hl, xb, xb, 57.7 - hr], [yl, yl, yr, yr], color='#3a3a3a', lw=0.75, zorder=3, solid_joinstyle='miter')
    return (yl + yr) / 2, h

dendro(tree_c)
T(67, 1392, 'DEG Cluster', 9.2, rotation=90)
T(990, 657.7, 'Condition', 9.2, ha='left')
T(990, 674, 'Time (hours)', 9.2, ha='left')
T(990, 713, 'Host gene expression', 9.2, ha='left')
T(990, 1363, 'Temperature', 8.7, ha='left')

T(1126, 966, 'DEG Cluster', 7.5, ha='left', fontweight='bold')
for y, col, lab in zip([982, 994.3, 1006.3], [BLUE_C, YEL_C, ORA_C], ['Human + Porcine', 'Human + Porcine + Bovine', 'Porcine + Bovine']):
    swatch(1126, y - 6, 1137.6, y + 6, col)
    T(1141.5, y, lab, 7.6, ha='left')
T(1274.5, 966, 'Condition', 7.5, ha='left', fontweight='bold')
for y, col, lab in zip([982, 994.3, 1006.3], [C_ICV, C_IDV, C_MOCK], ['ICV', 'IDV', 'Mock']):
    swatch(1274.5, y - 6, 1285.7, y + 6, col)
    T(1289.6, y, lab, 7.6, ha='left')
T(1126, 1028.3, 'Z−score', 7.5, ha='left', fontweight='bold')
cb = axpx(1126, 1037.7, 1138.5, 1102.3)
cb.imshow(np.linspace(4.3, -4.3, 128)[:, None], aspect='auto', cmap=cmap, vmin=-4, vmax=4); cb.axis('off')
for v, y in zip(['4', '2', '0', '−2', '−4'], [1040.7, 1055, 1070, 1085, 1100]):
    T(1141, y, v, 7.6, ha='left')
    ov.plot([1126, 1128.5], [y, y], color='white', lw=0.5, zorder=4); ov.plot([1136, 1138.5], [y, y], color='white', lw=0.5, zorder=4)
T(1274.5, 1028.3, 'Time (hours)', 7.5, ha='left', fontweight='bold')
for y, col, lab in zip([1044.3, 1056.3, 1068.7, 1080.7], T_COL, hours):
    swatch(1274.5, y - 6, 1285.7, y + 6, col)
    T(1289.6, y, str(lab), 7.6, ha='left')
T(1274.5, 1102.7, 'Temperature', 7.5, ha='left', fontweight='bold')
for y, col, lab in zip([1118.7, 1131], TEMP, ['33°C', '37°C']):
    swatch(1274.5, y - 6, 1285.7, y + 6, col)
    T(1289.6, y, lab, 7.6, ha='left')

# ---------- D: faceted lines ----------
dx = [(92.7, 241.6), (253, 402.4), (414.3, 563.3)]
dy = [(1602.2, 1815.7), (1827.5, 2040.6)]
panels = [[(h33_mock_mean, h33_mock_pts, h33_icv_mean, h33_icv_err, h33_icv_pts, h33_idv_mean, h33_idv_err, h33_idv_pts),
           (p33_mock_mean, p33_mock_pts, p33_icv_mean, p33_icv_err, p33_icv_pts, p33_idv_mean, p33_idv_err, p33_idv_pts),
           (b33_mock_mean, b33_mock_pts, b33_icv_mean, b33_icv_err, b33_icv_pts, b33_idv_mean, b33_idv_err, b33_idv_pts)],
          [(h37_mock_mean, h37_mock_pts, h37_icv_mean, h37_icv_err, h37_icv_pts, h37_idv_mean, h37_idv_err, h37_idv_pts),
           (p37_mock_mean, p37_mock_pts, p37_icv_mean, p37_icv_err, p37_icv_pts, p37_idv_mean, p37_idv_err, p37_idv_pts),
           (b37_mock_mean, b37_mock_pts, b37_icv_mean, b37_icv_err, b37_icv_pts, b37_idv_mean, b37_idv_err, b37_idv_pts)]]
K = 1000.0
for r, (y0, y1) in enumerate(dy):
    for c, (x0, x1) in enumerate(dx):
        a = axpx(x0, y0, x1, y1)
        mm, mp, im, ie, ip, dm, de, dp = panels[r][c]
        for mean, err, pts, col in [(im, ie, ip, C_ICV), (dm, de, dp, C_IDV)]:
            a.plot(*zip(*[(px, py * K) for px, py in pts]), 'o', color=col, ms=5.8, mew=0, zorder=3, clip_on=False)
            a.errorbar(hours, np.array(mean) * K, yerr=np.array(err) * K, color=col, lw=1.4, marker='o', ms=7.2, mew=0,
                       elinewidth=1.0, capsize=1.5, capthick=0.8, zorder=3)
        a.plot(*zip(*[(px, py * K) for px, py in mp]), 'o', color=C_MOCK, ms=5.8, mew=0, zorder=4, clip_on=False)
        a.plot(hours, np.array(mm) * K, '-', color=C_MOCK, lw=1.4, zorder=4)
        a.set_xlim(10.4, 109.9); a.set_ylim(-5580, 138000)
        a.set_xticks(hours); a.set_yticks([0, 50000, 100000])
        a.set_xticklabels(hours if r == 1 else []); a.set_yticklabels(['0e+00', '5e+04', '1e+05'] if c == 0 else [])
        a.tick_params(axis='x', length=3.5 if r == 1 else 0, width=1, labelsize=14.2, pad=3, colors='#111111')
        a.tick_params(axis='y', length=3.5 if c == 0 else 0, width=1, labelsize=14.2, pad=3, colors='#111111')
        for sp in a.spines.values():
            sp.set_linewidth(1.1); sp.set_color('#222222')
for (x0, x1), s in zip(dx, species):
    ov.add_patch(Rectangle((x0, 1570), x1 - x0, 31.5, fc='#F0F0F0', ec='#222222', lw=1.1, zorder=2))
    T((x0 + x1) / 2, 1586, s, 12.2)
for (y0, y1), s in zip(dy, ['33°C', '37°C']):
    ov.add_patch(Rectangle((564, y0), 32, y1 - y0, fc='#F0F0F0', ec='#222222', lw=1.1, zorder=2))
    T(580, (y0 + y1) / 2, s, 12.2, rotation=-90)
T(204, 1524, 'Condition', 14.6)
for (l0, l1), tx, col, lab in [((261, 284.5), 298.8, C_MOCK, 'Mock'), ((352, 375.5), 389, C_ICV, 'ICV'), ((430.6, 454), 468, C_IDV, 'IDV')]:
    ov.plot([l0, l1], [1524, 1524], color=col, lw=1.4, zorder=3)
    ov.plot([(l0 + l1) / 2], [1524], 'o', color=col, ms=6, mew=0, zorder=3)
    T(tx, 1524, lab, 12.2, ha='left')
T(9, 1821, 'Viral sequencing reads', 14.2, rotation=90)
T(328.6, 2083, 'Hours post infection', 14.4)

# ---------- E: correlation heatmap ----------
ex = [(725.7, 842.9), (845.6, 963.7), (966, 1083.6)]
ey_blocks = [(1532.2, 1695), (1698, 1949), (1951.8, 2070.3)]
matrices_e = [np.array(human_r), np.array(porcine_r), np.array(bovine_r)]
for i, ((x0, x1), s) in enumerate(zip(ex, species)):
    T((x0 + x1) / 2, 1503.8, s, 8.8)
    annbar(x0, 1516, x1, 1529.6, [C_ICV] * 2 + [C_IDV] * 2)
    annbar(x0, 2073, x1, 2086, [TEMP[0], TEMP[1], TEMP[0], TEMP[1]])
    s0 = 0
    for n, (y0, y1) in zip(e_blocks, ey_blocks):
        a = axpx(x0, y0, x1, y1)
        a.imshow(matrices_e[i][s0:s0 + n], aspect='auto', cmap=cmap, vmin=-1, vmax=1, interpolation='nearest')
        a.axis('off')
        s0 += n
s0 = 0
for n, (y0, y1), col in zip(e_blocks, ey_blocks, [BLUE_C, YEL_C, ORA_C]):
    rh = (y1 - y0) / n
    swatch(709, y0, 723, y1, col)
    for k in range(n):
        T(1086.3, y0 + (k + .5) * rh, genes_e[s0 + k], 8.3, ha='left')
    s0 += n
T(1086.3, 1523, 'Condition', 8.3, ha='left')
T(1086.3, 2079.5, 'Temperature', 8.2, ha='left')
T(716.5, 2105, 'DEG Cluster', 8.4, rotation=90, clip_on=True)

T(1156.7, 1741.8, 'DEG Cluster', 6.8, ha='left', fontweight='bold')
for y, col, lab in zip([1755.8, 1766.7, 1777.7], [BLUE_C, YEL_C, ORA_C], ['Human + Porcine', 'Human + Porcine + Bovine', 'Porcine + Bovine']):
    swatch(1156.7, y - 5.3, 1167, y + 5.3, col)
    T(1170.2, y, lab, 6.8, ha='left')
T(1290, 1741.8, 'Condition', 6.8, ha='left', fontweight='bold')
for y, col, lab in zip([1755.8, 1766.7], [C_ICV, C_IDV], ['ICV', 'IDV']):
    swatch(1290, y - 5.3, 1300.3, y + 5.3, col)
    T(1303.7, y, lab, 6.8, ha='left')
T(1290, 1786.8, 'Temperature', 6.8, ha='left', fontweight='bold')
for y, col, lab in zip([1800.8, 1811.8], TEMP, ['33°C', '37°C']):
    swatch(1290, y - 5.3, 1300.3, y + 5.3, col)
    T(1303.7, y, lab, 6.8, ha='left')
T(1156.7, 1797.8, 'Correlation', 6.8, ha='left', fontweight='bold')
cb2 = axpx(1156, 1806.5, 1167.5, 1864.3)
cb2.imshow(np.linspace(1.08, -1.08, 128)[:, None], aspect='auto', cmap=cmap, vmin=-1, vmax=1); cb2.axis('off')
for v, y in zip(['1', '0.5', '0', '−0.5', '−1'], [1808.7, 1821.8, 1835.4, 1849, 1862]):
    T(1170, y, v, 6.8, ha='left')
    ov.plot([1156, 1158], [y, y], color='white', lw=0.5, zorder=4); ov.plot([1165.5, 1167.5], [y, y], color='white', lw=0.5, zorder=4)

fig.savefig('out.png', dpi=100, facecolor='white')
